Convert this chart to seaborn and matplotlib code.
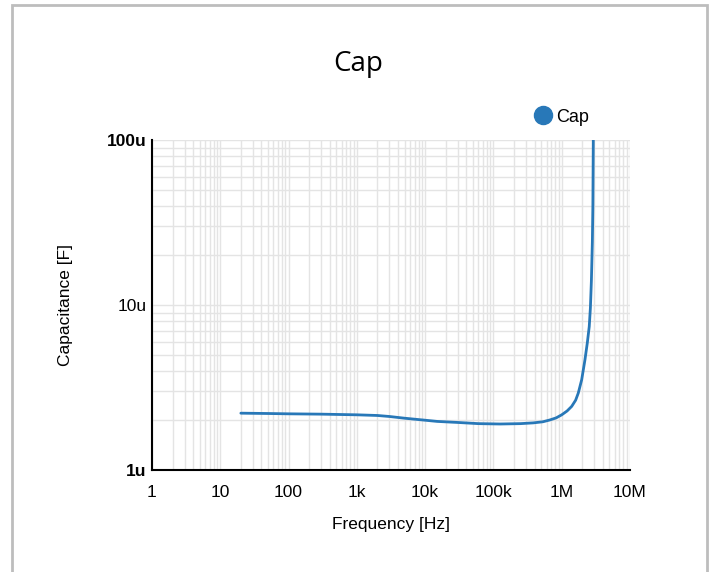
import numpy as np
import pandas as pd
import matplotlib
matplotlib.use("Agg")
import matplotlib.pyplot as plt
import seaborn as sns
from matplotlib.lines import Line2D
from matplotlib.patches import Rectangle

# values
freq_hz = [20, 50, 100, 300, 1e3, 2e3, 3e3, 5e3, 9.2e3, 15e3, 31e3, 60e3,
           125e3, 250e3, 383e3, 530e3, 670e3, 830e3, 1.0e6, 1.2e6, 1.4e6,
           1.6e6, 1.75e6, 1.96e6, 2.19e6, 2.37e6, 2.53e6, 2.63e6,
           2.72e6, 2.81e6, 2.86e6, 2.9e6]
cap_uf = [2.21, 2.20, 2.19, 2.18, 2.16, 2.14, 2.11, 2.06, 2.01, 1.97, 1.94,
          1.91, 1.90, 1.91, 1.93, 1.96, 2.01, 2.07, 2.16, 2.28, 2.43,
          2.65, 2.93, 3.52, 4.66, 5.89, 7.4, 9.6,
          14.0, 24.0, 40.0, 100.0]

x_ticks = [1, 10, 100, 1e3, 1e4, 1e5, 1e6, 1e7]
x_labels = ["1", "10", "100", "1k", "10k", "100k", "1M", "10M"]
y_ticks = [1e-6, 1e-5, 1e-4]
y_labels = ["1u", "10u", "100u"]

df = pd.DataFrame({"Frequency": freq_hz, "Capacitance": np.array(cap_uf) * 1e-6})

sns.set_style("white")
plt.rcParams["font.family"] = ["Liberation Sans", "DejaVu Sans"]
plt.rcParams["text.color"] = "black"
plt.rcParams["axes.labelcolor"] = "black"
plt.rcParams["xtick.color"] = "black"
plt.rcParams["ytick.color"] = "black"

line_color = "#2878b8"
fig = plt.figure(figsize=(7.17, 5.72), dpi=100)
ax = fig.add_axes([152 / 717, 102 / 572, 478 / 717, 330 / 572])

sns.lineplot(data=df, x="Frequency", y="Capacitance", ax=ax,
             color=line_color, linewidth=2.0, legend=False)
ax.set_xscale("log")
ax.set_yscale("log")
ax.set_xlim(1, 1e7)
ax.set_ylim(1e-6, 1e-4)

ax.set_xticks(x_ticks)
ax.set_xticklabels(x_labels, fontsize=12.5)
ax.set_yticks(y_ticks)
ax.set_yticklabels(y_labels, fontsize=12.5)
for lab in ax.get_yticklabels():
    if lab.get_text() in ("1u", "100u"):
        lab.set_fontweight("bold")
ax.tick_params(axis="x", which="both", length=0, pad=11)
ax.tick_params(axis="y", which="both", length=0, pad=4)

ax.grid(True, which="both", color="#e4e4e4", linewidth=1.0)
ax.set_axisbelow(True)
for s in ["top", "right"]:
    ax.spines[s].set_visible(False)
for s in ["left", "bottom"]:
    ax.spines[s].set_color("black")
    ax.spines[s].set_linewidth(1.5)

ax.set_xlabel("Frequency [Hz]", fontsize=12.5, labelpad=12)
ax.set_ylabel("Capacitance [F]", fontsize=12.5, labelpad=24)

fig.text(0.5, 1 - 64 / 572, "Cap", ha="center", va="center",
         fontsize=20, family="Open Sans", color="black")

handle = Line2D([], [], marker="o", linestyle="none", color=line_color, markersize=13)
fig.legend([handle], ["Cap"], loc="center left", bbox_to_anchor=(532 / 717, 1 - 117 / 572),
           frameon=False, fontsize=13, handlelength=1.2, handletextpad=0.15,
           borderaxespad=0, borderpad=0)

# outer frame
fig.patches.append(Rectangle((12 / 717, -0.05), 695 / 717, 1.05 - 5 / 572,
                             transform=fig.transFigure, fill=False,
                             edgecolor="#bdbdbd", linewidth=2))

fig.savefig("out.png", dpi=100)
